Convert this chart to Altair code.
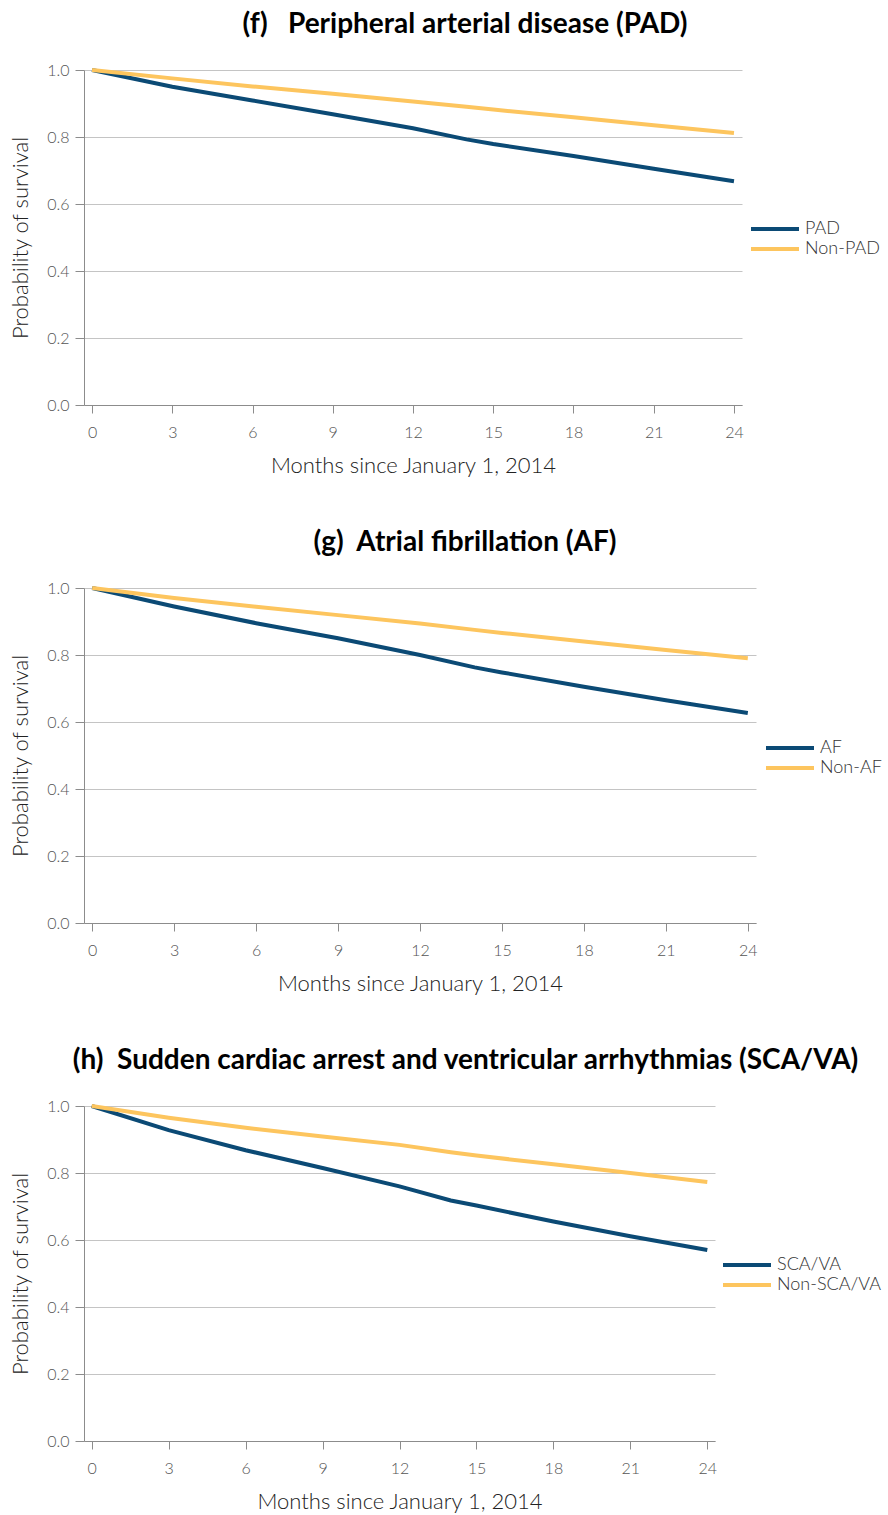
import altair as alt
import pandas as pd

months = [0, 3, 6, 9, 12, 14, 15, 18, 21, 24]

pad = [1.0, 0.950, 0.909, 0.868, 0.826, 0.793, 0.779, 0.743, 0.705, 0.668]
non_pad = [1.0, 0.975, 0.951, 0.929, 0.906, 0.890, 0.882, 0.859, 0.835, 0.812]

af = [1.0, 0.945, 0.895, 0.850, 0.800, 0.763, 0.748, 0.705, 0.665, 0.627]
non_af = [1.0, 0.970, 0.944, 0.919, 0.894, 0.875, 0.866, 0.840, 0.815, 0.790]

sca = [1.0, 0.928, 0.868, 0.815, 0.760, 0.718, 0.703, 0.655, 0.611, 0.570]
non_sca = [1.0, 0.965, 0.935, 0.909, 0.884, 0.862, 0.852, 0.826, 0.800, 0.773]

x_ticks = [0, 3, 6, 9, 12, 15, 18, 21, 24]
y_ticks = [0.0, 0.2, 0.4, 0.6, 0.8, 1.0]

BLUE = "#0b4a75"
YELLOW = "#fdc55e"
FONT = "Lato"
NB = "\u00a0"


def frame(groups, labels):
    rows = []
    for lab, vals in zip(labels, groups):
        for m, v in zip(months, vals):
            rows.append({"month": m, "surv": v, "group": lab})
    return pd.DataFrame(rows)


def panel(title, groups, labels, width, dx, legend_x, legend_y):
    df = frame(groups, labels)
    return (
        alt.Chart(df)
        .mark_line(strokeWidth=4)
        .encode(
            x=alt.X(
                "month:Q",
                scale=alt.Scale(domain=[-0.3, 24.3], nice=False, zero=False),
                axis=alt.Axis(
                    values=x_ticks,
                    title="Months since January 1, 2014",
                    grid=False,
                    tickSize=8,
                    labelPadding=11,
                    titlePadding=15,
                ),
            ),
            y=alt.Y(
                "surv:Q",
                scale=alt.Scale(domain=[0, 1], nice=False),
                axis=alt.Axis(
                    values=y_ticks,
                    format=".1f",
                    title="Probability of survival",
                    grid=True,
                    tickSize=9,
                    labelPadding=6,
                    titlePadding=14,
                ),
            ),
            color=alt.Color(
                "group:N",
                scale=alt.Scale(domain=labels, range=[BLUE, YELLOW]),
                sort=labels,
                legend=alt.Legend(
                    title=None,
                    orient="none",
                    legendX=legend_x,
                    legendY=legend_y,
                    symbolType="stroke",
                    symbolSize=2304,
                    symbolStrokeWidth=4,
                    clipHeight=20,
                    rowPadding=0,
                    labelFontSize=18,
                    labelFont=FONT,
                    labelFontWeight=300,
                    labelColor="#333",
                    labelOffset=4,
                ),
            ),
        )
        .properties(
            width=width,
            height=335,
            title=alt.TitleParams(
                title,
                anchor="middle",
                dx=dx,
                fontSize=28,
                font=FONT,
                fontWeight="bold",
                color="#000",
                offset=23,
            ),
        )
    )


p1 = panel(f"(f){NB}{NB}{NB}Peripheral arterial disease (PAD)", [pad, non_pad],
           ["PAD", "Non-PAD"], 658, 52, 665, 149)
p2 = panel(f"(g){NB}{NB}Atrial fibrillation (AF)", [af, non_af],
           ["AF", "Non-AF"], 672, 45, 680, 150)
p3 = panel(f"(h){NB}{NB}Sudden cardiac arrest and ventricular arrhythmias (SCA/VA)", [sca, non_sca],
           ["SCA/VA", "Non-SCA/VA"], 631, 66, 637, 149)

chart = (
    alt.vconcat(p1, p2, p3, spacing=53)
    .resolve_scale(color="independent", x="independent", y="independent")
    .properties(padding={"left": 9, "top": 11, "right": 5, "bottom": 5})
    .configure_view(stroke=None)
    .configure_axis(
        domainColor="#8c8c8c",
        tickColor="#8c8c8c",
        gridColor="#c4c4c4",
        labelFont=FONT,
        labelFontSize=16,
        labelColor="#555",
        labelFontWeight=300,
        titleFont=FONT,
        titleFontSize=22,
        titleFontWeight=300,
        titleColor="#222",
    )
)

chart.save("out.html", embed_options={"renderer": "svg", "actions": False})
